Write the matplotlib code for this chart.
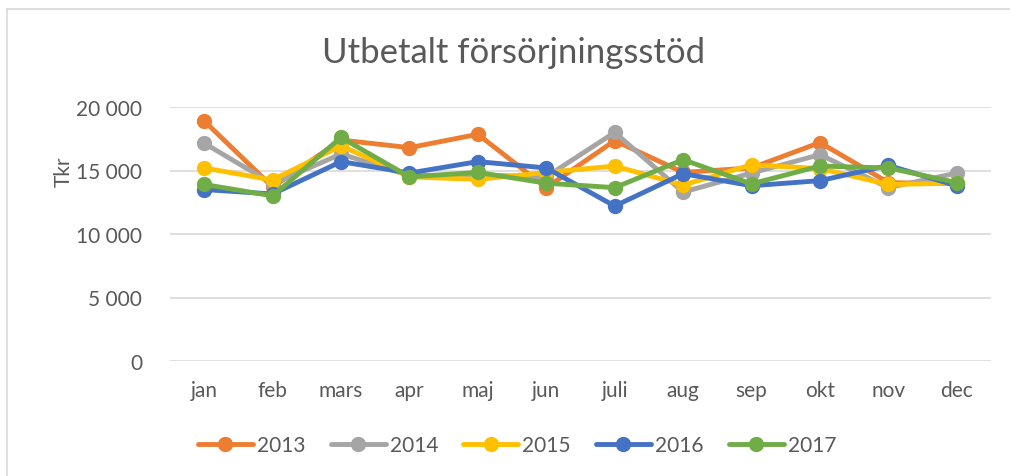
import matplotlib.pyplot as plt
from matplotlib.lines import Line2D

# months and yearly payouts (Tkr)
months = ["jan", "feb", "mars", "apr", "maj", "jun", "juli", "aug", "sep", "okt", "nov", "dec"]
years = ["2013", "2014", "2015", "2016", "2017"]

v2013 = [18900, 13700, 17400, 16800, 17850, 13650, 17350, 14850, 15200, 17200, 14050, 13950]
v2014 = [17150, 13950, 16300, 14600, 14650, 14500, 18000, 13300, 14800, 16250, 13650, 14800]
v2015 = [15200, 14250, 16950, 14500, 14300, 14850, 15350, 13850, 15450, 15150, 13900, 14000]
v2016 = [13500, 13150, 15700, 14800, 15700, 15200, 12200, 14750, 13800, 14200, 15400, 13800]
v2017 = [13900, 13000, 17600, 14500, 14850, 14000, 13650, 15850, 13950, 15350, 15200, 14050]

colors = ["#ED7D31", "#A5A5A5", "#FFC000", "#4472C4", "#70AD47"]
text_col = "#595959"

plt.rcParams['font.family'] = ['Lato', 'DejaVu Sans']

W, H = 1010, 477
fig = plt.figure(figsize=(W / 100, H / 100), dpi=100)

# axes placed in pixel terms
left, right, top, bottom = 170, 991, 108, 362
ax = fig.add_axes([left / W, 1 - bottom / H, (right - left) / W, (bottom - top) / H])

x = list(range(len(months)))
for vals, col, lab in zip([v2013, v2014, v2015, v2016, v2017], colors, years):
    ax.plot(x, vals, color=col, linewidth=3.5, marker='o', markersize=10,
            label=lab, clip_on=False, solid_capstyle='round', zorder=3)

ax.set_xlim(-0.5, len(months) - 0.5)
ax.set_ylim(0, 20000)
ax.set_yticks([0, 5000, 10000, 15000, 20000])
ax.set_yticklabels(["0", "5 000", "10 000", "15 000", "20 000"])
ax.set_xticks(x)
ax.set_xticklabels(months)
ax.tick_params(axis='both', length=0, labelsize=15, colors=text_col)
ax.tick_params(axis='y', pad=20)
ax.tick_params(axis='x', pad=14)
ax.grid(axis='y', color='#D9D9D9', linewidth=1.2)
ax.set_axisbelow(True)
for s in ax.spines.values():
    s.set_visible(False)

fig.text(64 / W, 1 - 172 / H, "Tkr", rotation=90, fontsize=15, color=text_col,
         ha='center', va='center')
fig.text(514 / W, 1 - 53 / H, "Utbetalt försörjningsstöd", fontsize=25,
         color=text_col, ha='center', va='center')

ax.legend(loc='center', bbox_to_anchor=(517 / W, 1 - 446 / H), bbox_transform=fig.transFigure,
          ncol=5, frameon=False, fontsize=15, handlelength=2.64, handletextpad=0.2,
          columnspacing=1.2, labelcolor=text_col)

# chart area border (top and left edges visible)
fig.add_artist(Line2D([7 / W, 7 / W], [0, 1 - 10 / H], color='#D9D9D9', linewidth=1.2))
fig.add_artist(Line2D([7 / W, 1], [1 - 10 / H, 1 - 10 / H], color='#D9D9D9', linewidth=1.2))

fig.savefig("out.png", dpi=100)
